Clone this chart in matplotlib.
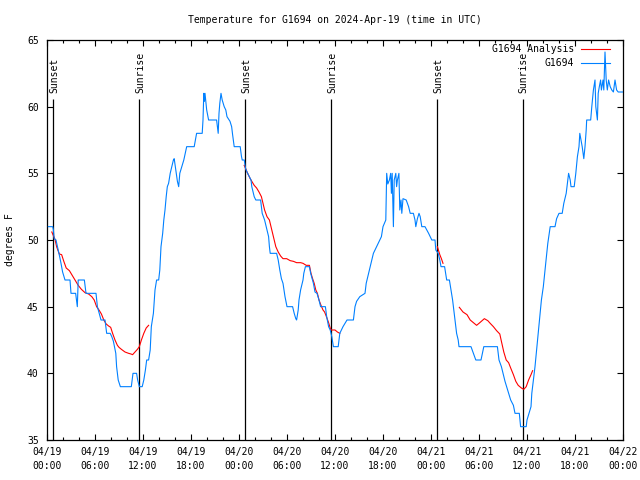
import matplotlib
matplotlib.use("Agg")
import matplotlib.pyplot as plt
import numpy as np

# ---------------- data ----------------
title = "Temperature for G1694 on 2024-Apr-19 (time in UTC)"
ylabel = "degrees F"

xtick_hours = [0, 6, 12, 18, 24, 30, 36, 42, 48, 54, 60, 66, 72]
xtick_labels = ["04/19\n00:00", "04/19\n06:00", "04/19\n12:00", "04/19\n18:00",
                "04/20\n00:00", "04/20\n06:00", "04/20\n12:00", "04/20\n18:00",
                "04/21\n00:00", "04/21\n06:00", "04/21\n12:00", "04/21\n18:00",
                "04/22\n00:00"]
ytick_values = [35, 40, 45, 50, 55, 60, 65]

sun_hours = [0.79, 11.54, 24.8, 35.54, 48.79, 59.45]
sun_labels = ["Sunset", "Sunrise", "Sunset", "Sunrise", "Sunset", "Sunrise"]

# observations (hours since 04/19 00:00 UTC, deg F)
obs_hours = [0.17, 0.71, 0.79, 0.9, 1.125, 1.4, 1.6, 1.75, 1.95, 2.25, 2.875, 3.0, 3.58, 3.7, 3.79,
             3.9, 4.67, 4.875, 6.125, 6.3, 6.75, 7.25, 7.46, 7.9, 8.1, 8.3, 8.6, 8.7, 8.9, 9.17,
             10.54, 10.75, 11.2, 11.33, 11.54, 11.9, 12.1, 12.3, 12.46, 12.7, 12.9, 13.04, 13.3,
             13.5, 13.7, 13.96, 14.1, 14.25, 14.46, 14.6, 14.75, 14.9, 15.04, 15.2, 15.4, 15.8,
             15.9, 16.3, 16.46, 16.6, 16.85, 17.1, 17.46, 18.4, 18.55, 18.7, 19.4, 19.5, 19.6,
             19.68, 19.75, 19.96, 20.2, 21.2, 21.4, 21.5, 21.6, 21.75, 21.9, 22.15, 22.35, 22.5,
             22.875, 23.08, 23.2, 23.4, 24.15, 24.3, 24.4, 24.66, 24.8, 25.0, 25.3, 25.5, 25.6,
             25.9, 26.1, 26.7, 26.9, 27.2, 27.4, 27.7, 27.8, 27.9, 28.7, 28.9, 29.1, 29.3, 29.5,
             29.75, 30.0, 30.7, 30.9, 31.1, 31.2, 31.4, 31.5, 31.7, 32.0, 32.1, 32.3, 32.8, 32.96,
             33.3, 33.5, 33.75, 34.0, 34.2, 34.8, 34.96, 35.2, 35.4, 35.6, 35.8, 36.4, 36.6, 37.0,
             37.5, 38.3, 38.5, 38.7, 39.1, 39.75, 39.9, 40.2, 40.4, 40.6, 40.8, 41.2, 41.6, 41.8,
             42.0, 42.35, 42.46, 42.6, 42.8, 42.96, 43.05, 43.15, 43.3, 43.4, 43.6, 43.7, 43.8,
             43.99, 44.1, 44.25, 44.35, 44.5, 44.9, 45.2, 45.4, 45.8, 46.0, 46.1, 46.3, 46.5,
             46.65, 46.85, 47.25, 47.7, 48.1, 48.5, 48.6, 48.9, 49.1, 49.25, 49.7, 49.96, 50.3,
             50.5, 50.7, 50.8, 51.0, 51.2, 51.4, 51.5, 53.0, 53.3, 53.6, 54.25, 54.6, 56.3, 56.5,
             56.8, 57.0, 57.25, 57.5, 57.7, 57.96, 58.3, 58.5, 59.04, 59.2, 59.9, 60.0, 60.25,
             60.5, 60.6, 60.8, 61.0, 61.2, 61.4, 61.6, 61.8, 62.04, 62.25, 62.4, 62.6, 62.9, 63.5,
             63.7, 64.0, 64.4, 64.6, 64.9, 65.0, 65.2, 65.4, 65.5, 65.9, 66.1, 66.3, 66.5, 66.6,
             66.75, 66.9, 67.1, 67.25, 67.4, 67.46, 67.96, 68.1, 68.3, 68.5, 68.6, 68.8, 68.9,
             69.04, 69.2, 69.3, 69.5, 69.6, 69.75, 69.9, 70.04, 70.2, 70.4, 70.6, 70.8, 71.0,
             71.2, 71.4, 71.8, 71.95]
obs_temp = [51, 51, 50.8, 50.1, 50, 49.25, 48.7, 48.25, 47.6, 47, 47, 46, 46, 45.4, 45,
            47, 47, 46, 46, 45, 44, 44, 43, 43, 42.75, 42.4, 41.5, 40.5, 39.5, 39,
            39, 40, 40, 39.5, 39, 39, 39.5, 40.25, 41, 41, 41.75, 43.5, 44.5,
            46.25, 47, 47, 47.75, 49.5, 50.5, 51.5, 52.25, 53.25, 54, 54.25, 55, 56,
            56.1, 54.4, 54, 55, 55.5, 56, 57, 57, 57.5, 58, 58, 59, 61,
            60.4, 61, 59.75, 59, 59, 58, 59.5, 60.25, 61, 60.5, 60, 59.75, 59.25,
            58.9, 58.5, 57.9, 57, 57, 56.3, 56, 56, 55.4, 55.1, 54.75, 54.5, 54,
            53.25, 53, 53, 52, 51.5, 51, 50.25, 49.5, 49, 49, 48.5, 47.75, 47.1, 46.75,
            45.75, 45, 45, 44.5, 44.1, 44, 44.75, 45.5, 46.25, 47, 47.5, 48, 48, 47.5,
            46.75, 46.1, 46, 45.5, 45, 45, 44.25, 43.5, 43.25, 42.75, 42, 42, 43, 43.5,
            44, 44, 45, 45.4, 45.75, 46, 46.75, 47.5, 48, 48.5, 49, 49.5, 50, 50.25,
            51, 51.5, 55, 54.2, 54.5, 55, 53.5, 55, 51, 54.5, 55, 54, 54.5,
            55, 52.25, 53, 52, 53.1, 53, 52.5, 52, 52, 51.5, 51, 51.6, 52,
            51.75, 51, 51, 50.5, 50, 50, 49.25, 49, 48.5, 48, 48, 47, 47,
            46.25, 45.5, 45, 44, 43, 42.5, 42, 42, 41.5, 41, 41, 42, 42, 41,
            40.5, 40, 39.4, 38.9, 38.5, 38, 37.6, 37, 37, 36, 36, 36.5, 37,
            37.5, 38.5, 39.5, 40.5, 41.75, 43, 44.25, 45.5, 46.5, 47.75, 48.6, 49.75, 51, 51,
            51.6, 52, 52, 52.75, 53.5, 54, 55, 54.5, 54, 54, 55, 56.25, 57, 58,
            57.5, 57, 56.1, 57, 58.25, 59, 59, 60, 61.25, 62, 60, 59, 61,
            61.5, 62, 61.25, 62, 61.25, 64.1, 62, 61.25, 62, 61.5, 61.25, 61.1, 62,
            61.25, 61.1, 61.1, 61.1]

# analysis (NaN separates gaps)
nan = np.nan
ana_hours = [0.6, 1.0, 1.2, 1.54, 1.83, 2.1, 2.4, 2.8, 3.1, 3.5, 3.9, 4.3, 4.75, 5.2, 5.6, 5.9,
             6.2, 6.5, 6.8, 7.1, 7.4, 7.7, 7.96, 8.2, 8.5, 8.8, 9.0, 9.3, 9.75, 10.2, 10.5, 10.7,
             11.0, 11.3, 11.54, 11.8, 12.1, 12.4, 12.7, 18.0,
             24.65, 24.8, 25.0, 25.4, 25.9, 26.2, 26.5, 26.8, 27.0, 27.2, 27.5, 27.8, 28.0, 28.2,
             28.4, 28.6, 28.9, 29.2, 29.5, 29.96, 30.4, 30.8, 31.2, 31.7, 32.0, 32.4, 32.8, 33.0,
             33.2, 33.4, 33.6, 33.8, 34.0, 34.25, 34.5, 34.7, 34.96, 35.2, 35.4, 35.5, 36.0, 36.3,
             36.6, 42.0,
             48.8, 49.1, 49.3, 49.5, 50.5,
             51.54, 52.0, 52.5, 52.9, 53.3, 53.7, 54.1, 54.67, 55.1, 55.4, 55.8, 56.2, 56.6, 56.8,
             57.1, 57.4, 57.7, 57.96, 58.3, 58.6, 58.9, 59.3, 59.6, 59.9, 60.2, 60.5, 60.7]
ana_temp = [50.6, 50.05, 49.5, 48.95, 48.9, 48.4, 47.9, 47.7, 47.4, 47, 46.6, 46.3, 46.05, 45.95, 45.75, 45.5,
            45, 44.75, 44.45, 44, 43.7, 43.55, 43.45, 43, 42.5, 42.1, 41.95, 41.8, 41.6, 41.5, 41.45, 41.4,
            41.6, 41.8, 42, 42.5, 43, 43.4, 43.6, nan,
            55.6, 55.4, 55.1, 54.6, 54.1, 53.9, 53.6, 53.25, 52.75, 52.25, 51.75, 51.5, 51, 50.5,
            50, 49.5, 49.1, 48.8, 48.6, 48.6, 48.45, 48.4, 48.3, 48.3, 48.25, 48.1, 48.1, 47.5,
            47.1, 46.75, 46.25, 46, 45.5, 45.1, 44.75, 44.6, 44.2, 43.8, 43.4, 43.25, 43.25, 43.1,
            43, nan,
            49.5, 48.9, 48.6, 48.25, nan,
            44.95, 44.6, 44.4, 44, 43.8, 43.6, 43.8, 44.1, 43.95, 43.75, 43.5, 43.2, 42.95, 42.4,
            41.6, 41, 40.8, 40.4, 39.9, 39.4, 39.1, 38.9, 38.8, 39, 39.5, 39.9, 40.2]

legend_labels = ["G1694 Analysis", "G1694"]
obs_color = "#0080ff"
ana_color = "#ff0000"

# ---------------- plot ----------------
plt.rcParams["font.family"] = ["DejaVu Sans Mono"]
plt.rcParams["font.size"] = 7

fig = plt.figure(figsize=(6.4, 4.8), dpi=100)
ax = fig.add_axes([47 / 640, 40 / 480, 576 / 640, 400 / 480])

ax.plot(ana_hours, ana_temp, color=ana_color, lw=0.8, zorder=2)
ax.plot(obs_hours, obs_temp, color=obs_color, lw=0.8, zorder=3)

ax.vlines(sun_hours, 35, 60.55, color="black", lw=0.9, zorder=1)
for h, lab in zip(sun_hours, sun_labels):
    ax.text(h + 0.1, 61.05, lab, rotation=90, ha="center", va="bottom", fontsize=7)

ax.set_xlim(0, 72)
ax.set_ylim(35, 65)
ax.set_xticks(xtick_hours)
ax.set_xticklabels(xtick_labels, linespacing=1.45)
ax.set_xticks(np.arange(0, 73, 2), minor=True)
ax.set_yticks(ytick_values)
ax.set_yticklabels([str(v) for v in ytick_values])

ax.tick_params(which="both", direction="in", top=True, right=True, width=0.8, colors="black")
ax.tick_params(which="major", length=4.5)
ax.tick_params(which="minor", length=2.3)
ax.tick_params(axis="x", which="major", pad=5)
ax.tick_params(axis="y", which="major", pad=6)
for s in ax.spines.values():
    s.set_linewidth(0.9)

# legend (top right, no frame)
rows = [(49, ana_color), (63, obs_color)]
for (py, col), lab in zip(rows, legend_labels):
    yf = 1 - (py - 40) / 400
    ax.text((574 - 47) / 576, yf, lab, transform=ax.transAxes, ha="right", va="center", fontsize=7)
    ax.plot([(581 - 47) / 576, (610 - 47) / 576], [yf, yf], transform=ax.transAxes,
            color=col, lw=0.8, clip_on=False)

fig.text(335 / 640, 1 - 20 / 480, title, ha="center", va="center", fontsize=7)
fig.text(10 / 640, 0.5, ylabel, rotation=90, ha="center", va="center", fontsize=7)

fig.savefig("out.png", dpi=100)
